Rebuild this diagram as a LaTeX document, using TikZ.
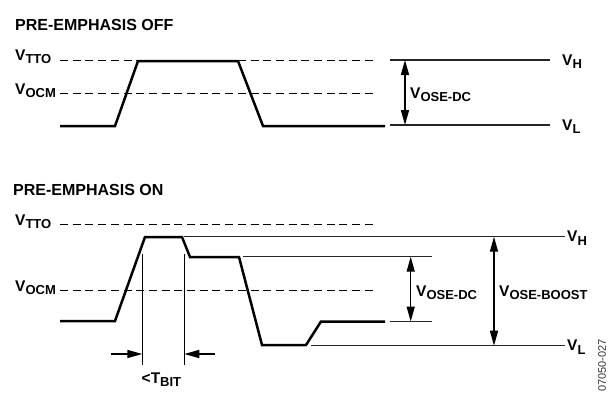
\documentclass[tikz,border=0pt]{standalone}
\usepackage{fontspec}
\setmainfont{Liberation Sans}
\usetikzlibrary{arrows.meta}
\newcommand{\Vsub}[2]{#1\raisebox{-3.5pt}{\fontsize{13}{13}\selectfont #2}}
\begin{document}
\begin{tikzpicture}[x=1pt,y=-1pt,
  wave/.style={line width=2.5pt, line join=miter},
  dashln/.style={line width=1pt, dash pattern=on 8pt off 4.7pt},
  refline/.style={line width=1.1pt, draw=black!85},
  marker/.style={line width=0.9pt},
  dimarrow/.style={line width=1.5pt, {Triangle[length=15pt,width=8pt]}-{Triangle[length=15pt,width=8pt]}},
  harrow/.style={line width=1.5pt, -{Triangle[length=15pt,width=8pt]}},
  ttl/.style={font=\bfseries\fontsize{16}{16}\selectfont, inner sep=0pt, anchor=base west},
  lbl/.style={font=\bfseries\fontsize{15.5}{15.5}\selectfont, inner sep=0pt, anchor=base west},
  idtxt/.style={font=\fontsize{11}{11}\selectfont, text=black!80, inner sep=0pt, rotate=90, anchor=east}]
\useasboundingbox (0,0) rectangle (608,394);

% ---------------- titles
\node[ttl] (t1) at (15,30) {PRE-EMPHASIS OFF};
\node[ttl] (t2) at (13,195) {PRE-EMPHASIS ON};

% ================= PRE-EMPHASIS OFF
\coordinate (ta1) at (60,60.5);  \coordinate (ta2) at (374,60.5);
\coordinate (oa1) at (60,93.5);  \coordinate (oa2) at (374,93.5);
\draw[dashln] (ta1) -- (ta2);
\draw[dashln] (oa1) -- (oa2);

\coordinate (w1) at (60,126);  \coordinate (w2) at (115,126);
\coordinate (w3) at (138,61);  \coordinate (w4) at (238,61);
\coordinate (w5) at (263,126); \coordinate (w6) at (385,126);
\draw[wave] (w1) -- (w2) -- (w3) -- (w4) -- (w5) -- (w6);

\coordinate (ha1) at (390,60);  \coordinate (ha2) at (550,60);
\coordinate (la1) at (390,125); \coordinate (la2) at (550,125);
\draw[refline] (ha1) -- (ha2);
\draw[refline] (la1) -- (la2);

\coordinate (da1) at (405,60); \coordinate (da2) at (405,125);
\draw[dimarrow] (da1) -- (da2);

\node[lbl] (vtto1) at (15,60) {\Vsub{V}{TTO}};
\node[lbl] (vocm1) at (15,94) {\Vsub{V}{OCM}};
\node[lbl] (vh1) at (562,65) {\Vsub{V}{H}};
\node[lbl] (vl1) at (562,130) {\Vsub{V}{L}};
\node[lbl] (vdc1) at (410,98) {\Vsub{V}{OSE-DC}};

% ================= PRE-EMPHASIS ON
\coordinate (tb1) at (60,224.5);  \coordinate (tb2) at (374,224.5);
\coordinate (ob1) at (60,290.5);  \coordinate (ob2) at (374,290.5);
\draw[dashln] (tb1) -- (tb2);
\draw[dashln] (ob1) -- (ob2);

\coordinate (u1) at (60,321);   \coordinate (u2) at (115,321);
\coordinate (u3) at (145,237);  \coordinate (u4) at (182,237);
\coordinate (u5) at (190,257);  \coordinate (u6) at (239,257);
\coordinate (u7) at (262,345);  \coordinate (u8) at (306,345);
\coordinate (u9) at (321,321.5);\coordinate (u10) at (385,321.5);
\draw[wave] (u1) -- (u2) -- (u3) -- (u4) -- (u5) -- (u6) -- (u7) -- (u8) -- (u9) -- (u10);

\coordinate (hb1) at (184,236.7);  \coordinate (hb2) at (565,236.7);
\coordinate (ct1) at (243,256.7);  \coordinate (ct2) at (432,256.7);
\coordinate (cb1) at (390,321.5);  \coordinate (cb2) at (432,321.5);
\coordinate (lb1) at (311,345.7);  \coordinate (lb2) at (565,345.7);
\draw[refline] (hb1) -- (hb2);
\draw[refline] (ct1) -- (ct2);
\draw[refline] (cb1) -- (cb2);
\draw[refline] (lb1) -- (lb2);

\coordinate (db1) at (410.7,256.7); \coordinate (db2) at (410.7,321.5);
\draw[dimarrow] (db1) -- (db2);
\coordinate (bb1) at (494,236.7); \coordinate (bb2) at (494,345.7);
\draw[dimarrow] (bb1) -- (bb2);

\node[lbl] (vtto2) at (15,225) {\Vsub{V}{TTO}};
\node[lbl] (vocm2) at (15,291) {\Vsub{V}{OCM}};
\node[lbl] (vh2) at (567,241.5) {\Vsub{V}{H}};
\node[lbl] (vl2) at (567,350.5) {\Vsub{V}{L}};
\node[lbl] (vdc2) at (416,296) {\Vsub{V}{OSE-DC}};
\node[lbl] (vboost) at (499,296) {\Vsub{V}{OSE-BOOST}};

% T_BIT marker
\coordinate (m1a) at (142.3,254); \coordinate (m1b) at (142.3,365);
\coordinate (m2a) at (184.3,254); \coordinate (m2b) at (184.3,365);
\draw[marker] (m1a) -- (m1b);
\draw[marker] (m2a) -- (m2b);
\coordinate (al) at (111,354); \coordinate (alt) at (142.3,354);
\coordinate (ar) at (215,354); \coordinate (art) at (184.3,354);
\draw[harrow] (al) -- (alt);
\draw[harrow] (ar) -- (art);
\node[lbl] (tbit) at (141.5,383) {\Vsub{<T}{BIT}};

% figure id
\node[idtxt] (fid) at (602,339) {07050-027};
\end{tikzpicture}
\end{document}
